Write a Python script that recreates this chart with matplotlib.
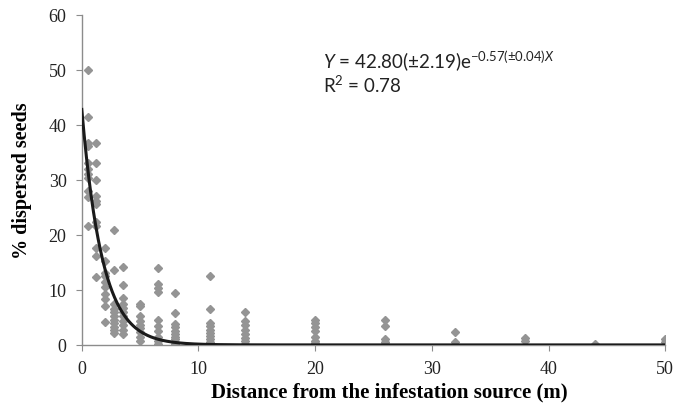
import numpy as np
import matplotlib.pyplot as plt

# distances (m) and % dispersed seeds, one list per distance
dist = [0.5, 1.25, 2, 2.75, 3.5, 5, 6.5, 8, 11, 14, 20, 26, 32, 38, 44, 50]
seeds = [
	[50, 41.4, 36.7, 36.2, 33.1, 32.0, 31.0, 30.3, 27.9, 26.9, 21.7],
	[36.7, 33.0, 29.9, 27.0, 26.2, 25.7, 22.4, 21.6, 17.6, 16.1, 12.4],
	[17.6, 15.3, 13.0, 12.6, 11.4, 10.6, 9.3, 8.4, 7.1, 4.1],
	[20.9, 13.6, 7.4, 6.6, 5.9, 5.2, 4.6, 3.9, 3.3, 2.7, 2.2],
	[14.1, 10.9, 8.5, 7.5, 6.8, 6.0, 5.2, 4.4, 3.6, 2.8, 2.0],
	[7.4, 7.1, 5.2, 4.4, 3.7, 3.0, 2.3, 1.5, 0.8],
	[13.9, 11.0, 10.3, 9.6, 4.6, 3.5, 2.5, 1.5, 0.7, 0.2],
	[9.5, 5.8, 3.8, 3.2, 2.6, 2.0, 1.5, 1.0, 0.5, 0.2],
	[12.5, 6.6, 4.0, 3.5, 2.8, 2.2, 1.6, 1.0, 0.5, 0.1],
	[5.9, 4.4, 3.6, 2.8, 2.0, 1.3, 0.7, 0.2],
	[4.6, 3.9, 3.2, 2.6, 1.5, 0.8, 0.3, 0.0],
	[4.5, 3.5, 1.0, 0.5, 0.1],
	[2.3, 0.5, 0.0],
	[1.3, 0.8],
	[0.2],
	[1.0, 0.5],
]
# fitted model Y = a*exp(-b*X)
a = 42.80
b = 0.57

x_pts = []
y_pts = []
for d, vals in zip(dist, seeds):
	x_pts += [d]*len(vals)
	y_pts += vals

plt.rcParams['font.family'] = 'Liberation Serif'
plt.rcParams['mathtext.fontset'] = 'custom'
plt.rcParams['mathtext.rm'] = 'Lato'
plt.rcParams['mathtext.it'] = 'Lato:italic'

fig = plt.figure(figsize=(6.76, 4.06), dpi=100)
ax = fig.add_axes([0.121, 0.148, 0.863, 0.813])

ax.plot(x_pts, y_pts, 'D', color='#949494', ms=4.5, mec='#949494', zorder=2)
xx = np.linspace(0, 50, 500)
ax.plot(xx, a*np.exp(-b*xx), color='#1a1a1a', lw=2.2, zorder=3)

ax.set_xlim(0, 50)
ax.set_ylim(0, 60)
ax.set_xticks(range(0, 51, 10))
ax.set_yticks(range(0, 61, 10))
for s in ['top', 'right']:
	ax.spines[s].set_visible(False)
for s in ['left', 'bottom']:
	ax.spines[s].set_color('#8c8c8c')
	ax.spines[s].set_linewidth(1.0)
ax.tick_params(colors='#8c8c8c', labelcolor='#222222', length=4, width=0.8,
	labelsize=13)
ax.tick_params(axis='y', pad=7)
ax.tick_params(axis='x', pad=7)

ax.set_xlabel('Distance from the infestation source (m)', fontweight='bold',
	fontsize=15)
ax.xaxis.set_label_coords(0.527, -0.11)
ax.set_ylabel('% dispersed seeds', fontweight='bold', fontsize=14.5, labelpad=12)

ax.text(0.413, 0.84, r'$\mathit{Y}$ = 42.80(±2.19)e$^{-0.57(±0.04)\mathit{X}}$',
	transform=ax.transAxes, family='Lato', fontsize=13.5, color='#222222',
	va='baseline')
ax.text(0.413, 0.767, r'R$^2$ = 0.78', transform=ax.transAxes, family='Lato',
	fontsize=13.5, color='#222222', va='baseline')

plt.savefig('out.png', dpi=100)
